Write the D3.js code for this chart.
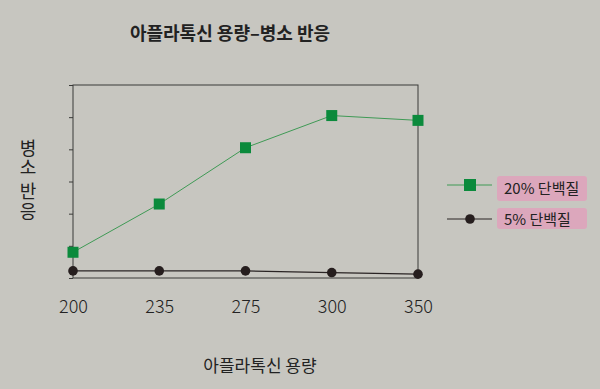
<!DOCTYPE html>
<html>
<head>
<meta charset="utf-8">
<script src="https://d3js.org/d3.v7.min.js"></script>
<style>
  body { margin: 0; background: #c7c6c0; }
  text { font-family: "Noto Sans CJK KR", "Noto Sans", sans-serif; fill: #222; }
</style>
</head>
<body>
<svg id="myPlot" width="600" height="389"></svg>

<script>
// data
const doses = ["200", "235", "275", "300", "350"];
const protein20 = [0.8, 2.3, 4.05, 5.05, 4.9];
const protein5 = [0.22, 0.22, 0.22, 0.17, 0.12];
const yTicks = [0, 1, 2, 3, 4, 5, 6];
const seriesNames = ["20% 단백질", "5% 단백질"];

const plotLeft = 73, plotRight = 418, plotTop = 85, plotBottom = 278;

const svg = d3.select("#myPlot");

// paper background
svg.append("rect")
  .attr("width", 600).attr("height", 389)
  .attr("fill", "#c7c6c0");

const xScale = d3.scalePoint()
  .domain(doses)
  .range([plotLeft, plotRight])
  .padding(0);

const yScale = d3.scaleLinear()
  .domain([0, 6])
  .range([plotBottom, plotTop]);

// frame
svg.append("rect")
  .attr("x", plotLeft).attr("y", plotTop)
  .attr("width", plotRight - plotLeft).attr("height", plotBottom - plotTop)
  .attr("fill", "none")
  .attr("stroke", "#3a3a38")
  .attr("stroke-width", 1);

// Y axis ticks, no labels
const yAxis = svg.append("g")
  .attr("transform", "translate(" + plotLeft + ",0)")
  .call(d3.axisLeft(yScale).tickValues(yTicks).tickSize(4).tickFormat(""));
yAxis.select(".domain").remove();
yAxis.selectAll("line").attr("stroke", "#3a3a38");

// X axis labels
const xAxis = svg.append("g")
  .attr("transform", "translate(0," + plotBottom + ")")
  .call(d3.axisBottom(xScale).tickSize(0).tickPadding(22));
xAxis.select(".domain").remove();
xAxis.selectAll("text")
  .attr("font-size", "18px")
  .attr("font-family", "'Noto Sans', sans-serif")
  .attr("font-weight", 300)
  .attr("fill", "#222");

const line = d3.line()
  .x((d, i) => xScale(doses[i]))
  .y(d => yScale(d));

// 5% series
svg.append("path")
  .datum(protein5)
  .attr("d", line)
  .attr("fill", "none")
  .attr("stroke", "#2a2424")
  .attr("stroke-width", 1.2);

svg.append("g")
  .selectAll("circle")
  .data(protein5).enter()
  .append("circle")
  .attr("cx", (d, i) => xScale(doses[i]))
  .attr("cy", d => yScale(d))
  .attr("r", 4.8)
  .attr("fill", "#261e1e");

// 20% series
svg.append("path")
  .datum(protein20)
  .attr("d", line)
  .attr("fill", "none")
  .attr("stroke", "#3f9a55")
  .attr("stroke-width", 1);

svg.append("g")
  .selectAll("rect")
  .data(protein20).enter()
  .append("rect")
  .attr("x", (d, i) => xScale(doses[i]) - 5.5)
  .attr("y", d => yScale(d) - 5.5)
  .attr("width", 11).attr("height", 11)
  .attr("fill", "#0b8a3c");

// title
svg.append("text")
  .attr("x", 230).attr("y", 40)
  .attr("text-anchor", "middle")
  .attr("font-size", "18px")
  .attr("font-weight", "bold")
  .attr("fill", "#1e1e1e")
  .text("아플라톡신 용량–병소 반응");

// x title
svg.append("text")
  .attr("x", 260).attr("y", 372)
  .attr("text-anchor", "middle")
  .attr("font-size", "17px")
  .text("아플라톡신 용량");

// y title, set vertically with upright characters
svg.append("text")
  .attr("x", 28).attr("y", 180)
  .attr("text-anchor", "middle")
  .attr("font-size", "18px")
  .style("writing-mode", "vertical-rl")
  .style("text-orientation", "upright")
  .style("letter-spacing", "1.5px")
  .style("word-spacing", "-15px")
  .text("병소 반응");

// legend
const legend = svg.append("g");
const legendY = [185, 219];

legend.selectAll("rect.bg")
  .data(seriesNames).enter()
  .append("rect")
  .attr("class", "bg")
  .attr("x", 497)
  .attr("y", (d, i) => legendY[i] - (i === 0 ? 9 : 11))
  .attr("width", 90)
  .attr("height", (d, i) => i === 0 ? 25 : 21)
  .attr("rx", 3)
  .attr("fill", "#dca7bc");

legend.append("line")
  .attr("x1", 447).attr("x2", 492)
  .attr("y1", legendY[0]).attr("y2", legendY[0])
  .attr("stroke", "#3f9a55");
legend.append("rect")
  .attr("x", 464).attr("y", legendY[0] - 6)
  .attr("width", 12).attr("height", 12)
  .attr("fill", "#0b8a3c");

legend.append("line")
  .attr("x1", 447).attr("x2", 492)
  .attr("y1", legendY[1]).attr("y2", legendY[1])
  .attr("stroke", "#2a2424");
legend.append("circle")
  .attr("cx", 470).attr("cy", legendY[1])
  .attr("r", 4.8)
  .attr("fill", "#261e1e");

legend.selectAll("text.lab")
  .data(seriesNames).enter()
  .append("text")
  .attr("class", "lab")
  .attr("x", 504)
  .attr("y", (d, i) => legendY[i] + (i === 0 ? 9 : 6))
  .attr("font-size", "15px")
  .attr("fill", "#2a2a2a")
  .text(d => d);
</script>
</body>
</html>
